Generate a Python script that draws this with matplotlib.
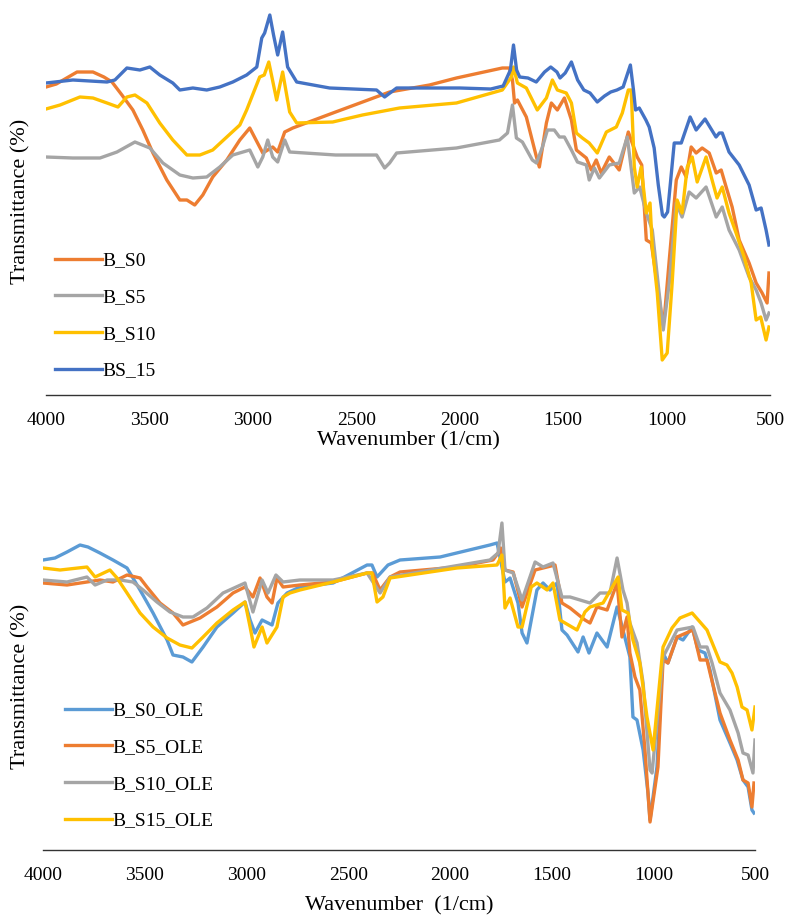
import matplotlib
matplotlib.use('Agg')
import matplotlib.pyplot as plt

plt.rcParams['font.family'] = ['Liberation Serif', 'DejaVu Serif']

# ---- top panel: B_S series (transmittance, arbitrary units) ----
top_labels = ['B_S0', 'B_S5', 'B_S10', 'BS_15']
top_colors = ['#ED7D31', '#A5A5A5', '#FFC000', '#4472C4']

b_s0_wn = [4000, 3950, 3900, 3850, 3773, 3720, 3681, 3633, 3580, 3532, 3483, 3416, 3353, 3319,
           3281, 3242, 3194, 3126, 3063, 3015, 2952, 2904, 2880, 2846, 2807, 2600, 2339, 2146,
           2016, 1794, 1760, 1745, 1735, 1721, 1678, 1629, 1615, 1581, 1557, 1528, 1494, 1460,
           1436, 1388, 1364, 1340, 1316, 1277, 1229, 1185, 1142, 1120, 1098, 1074, 1050, 1026,
           1011, 987, 953, 929, 905, 881, 857, 828, 794, 760, 736, 712, 683, 649, 601, 567, 538,
           514, 505]
b_s0_t = [313, 316, 322, 328, 328, 323, 318, 305, 290, 270, 247, 220, 200, 200,
          195, 205, 223, 240, 260, 272, 247, 253, 248, 268, 272, 288, 308, 315,
          322, 332, 332, 320, 297, 300, 283, 243, 233, 277, 297, 290, 302, 280,
          250, 242, 230, 240, 227, 243, 230, 268, 243, 235, 160, 157, 123, 87,
          82, 140, 220, 233, 223, 253, 247, 252, 247, 227, 230, 213, 193, 160, 137, 117, 107,
          97, 127]

b_s5_wn = [4000, 3870, 3739, 3657, 3570, 3498, 3435, 3353, 3290, 3223, 3160, 3097, 3015, 2976,
           2952, 2928, 2904, 2880, 2846, 2822, 2600, 2402, 2363, 2339, 2305, 2016, 1808, 1769,
           1745, 1726, 1697, 1649, 1629, 1600, 1576, 1543, 1518, 1494, 1460, 1431, 1388, 1374,
           1349, 1325, 1277, 1229, 1190, 1156, 1130, 1098, 1069, 1036, 1016, 987, 953, 925, 891,
           857, 809, 760, 731, 698, 649, 601, 567, 543, 519, 505]
b_s5_t = [243, 242, 242, 248, 258, 252, 237, 225, 222, 223, 233, 245, 250, 233,
          243, 260, 243, 238, 260, 248, 245, 245, 232, 237, 247, 252, 260, 267,
          295, 262, 258, 240, 237, 253, 270, 270, 263, 263, 250, 238, 235, 220,
          232, 222, 235, 237, 263, 207, 213, 187, 170, 107, 70, 117, 197, 183, 208,
          202, 213, 183, 193, 170, 150, 123, 110, 97, 80, 87]

b_s10_wn = [4000, 3932, 3836, 3773, 3705, 3652, 3609, 3570, 3512, 3450, 3387, 3319, 3256, 3194,
            3126, 3063, 3030, 2967, 2945, 2923, 2885, 2856, 2822, 2788, 2614, 2470, 2291, 2016,
            1794, 1750, 1740, 1721, 1678, 1625, 1581, 1552, 1528, 1485, 1460, 1436, 1407, 1374,
            1335, 1291, 1243, 1214, 1185, 1171, 1156, 1142, 1123, 1098, 1080, 1069, 1045, 1021,
            997, 973, 949, 925, 900, 876, 852, 809, 780, 756, 731, 698, 664, 625, 591, 567, 545,
            519, 505]
b_s10_t = [291, 295, 303, 302, 297, 293, 303, 305, 297, 277, 260, 245, 245, 250,
           263, 275, 290, 323, 325, 338, 300, 328, 288, 277, 278, 285, 292, 297,
           310, 323, 333, 317, 312, 290, 302, 320, 310, 307, 297, 267, 262, 257,
           247, 268, 273, 287, 310, 310, 233, 213, 233, 187, 197, 153, 107, 40,
           47, 117, 200, 187, 233, 243, 218, 243, 220, 202, 213, 187, 167, 143, 117, 80, 83,
           60, 73]

bs15_wn = [4000, 3870, 3705, 3667, 3609, 3546, 3498, 3450, 3387, 3353, 3290, 3223, 3160, 3097,
           3030, 2981, 2957, 2943, 2918, 2900, 2880, 2856, 2832, 2788, 2629, 2402, 2363, 2305,
           2200, 2000, 1850, 1790, 1755, 1740, 1725, 1710, 1670, 1630, 1590, 1560, 1530, 1515,
           1490, 1460, 1430, 1400, 1370, 1335, 1300, 1270, 1240, 1210, 1175, 1160, 1150, 1132,
           1100, 1084, 1060, 1040, 1020, 1011, 995, 980, 963, 929, 886, 857, 814, 761, 745, 731,
           698, 649, 601, 567, 543, 519, 505]
bs15_t = [317, 320, 318, 320, 332, 330, 333, 325, 317, 310, 312, 310, 313, 318,
          325, 333, 362, 367, 385, 365, 345, 368, 333, 318, 312, 310, 303, 312,
          312, 312, 311, 314, 330, 355, 330, 323, 322, 318, 328, 333, 328, 322,
          327, 338, 320, 310, 307, 298, 304, 308, 310, 313, 335, 310, 290, 292,
          280, 273, 252, 215, 185, 183, 188, 220, 257, 257, 283, 270, 281, 263, 267, 267,
          248, 235, 215, 190, 192, 170, 155]

# ---- bottom panel: OLE series ----
bot_labels = ['B_S0_OLE', 'B_S5_OLE', 'B_S10_OLE', 'B_S15_OLE']
bot_colors = ['#5B9BD5', '#ED7D31', '#A5A5A5', '#FFC000']

s0_ole_wn = [4000, 3941, 3882, 3818, 3779, 3720, 3656, 3587, 3523, 3459, 3390, 3361, 3312, 3268,
             3213, 3145, 3066, 3007, 2982, 2958, 2923, 2874, 2845, 2800, 2737, 2574, 2407, 2383,
             2358, 2304, 2245, 2048, 1803, 1768, 1729, 1704, 1665, 1645, 1621, 1572, 1542, 1508,
             1473, 1449, 1424, 1370, 1345, 1316, 1277, 1227, 1178, 1149, 1115, 1100, 1080, 1050,
             1026, 1016, 982, 952, 928, 883, 854, 809, 780, 746, 721, 672, 623, 588, 559, 534,
             515, 505]
s0_ole_t = [295, 297, 303, 310, 308, 302, 295, 287, 265, 242, 215, 200, 198, 193,
            208, 228, 242, 253, 235, 222, 235, 230, 252, 262, 268, 272, 290, 290,
            278, 290, 295, 298, 310, 312, 273, 277, 252, 222, 212, 265, 272, 265,
            272, 225, 220, 203, 218, 202, 222, 208, 248, 225, 198, 138, 135, 105,
            62, 35, 88, 202, 192, 218, 215, 228, 205, 202, 185, 135, 112, 95, 75, 68,
            45, 42]

s5_ole_wn = [4000, 3882, 3784, 3720, 3656, 3587, 3523, 3489, 3425, 3361, 3312, 3228, 3145, 3066,
             3007, 2968, 2933, 2899, 2874, 2850, 2820, 2737, 2574, 2407, 2380, 2343, 2294, 2245,
             1965, 1788, 1763, 1750, 1729, 1689, 1645, 1581, 1483, 1449, 1409, 1336, 1311, 1277,
             1227, 1178, 1154, 1129, 1115, 1090, 1066, 1041, 1016, 977, 952, 928, 883, 805, 770,
             736, 721, 672, 623, 583, 559, 534, 515, 505]
s5_ole_t = [272, 270, 273, 275, 273, 280, 277, 268, 252, 242, 230, 237, 248, 262,
            268, 258, 277, 258, 252, 277, 268, 270, 273, 282, 282, 265, 278, 283,
            288, 295, 302, 307, 285, 283, 248, 285, 290, 252, 247, 235, 232, 248,
            245, 272, 218, 238, 202, 178, 165, 105, 33, 88, 195, 192, 218, 225, 195,
            195, 182, 142, 115, 95, 75, 72, 48, 72]

s10_ole_wn = [4000, 3882, 3784, 3744, 3685, 3621, 3558, 3508, 3440, 3376, 3312, 3263, 3194, 3115,
              3007, 2968, 2923, 2894, 2855, 2820, 2737, 2574, 2407, 2343, 2294, 1803, 1763, 1744,
              1729, 1689, 1645, 1581, 1542, 1493, 1449, 1409, 1311, 1262, 1213, 1178, 1149, 1129,
              1115, 1080, 1050, 1016, 1006, 952, 883, 805, 770, 736, 711, 672, 623, 583, 559, 534,
              510, 500]
s10_ole_t = [275, 273, 278, 270, 275, 275, 273, 265, 253, 243, 238, 238, 247, 262,
             272, 243, 275, 262, 280, 273, 275, 275, 282, 262, 278, 295, 302, 332,
             285, 282, 255, 293, 288, 292, 258, 258, 252, 262, 262, 297, 265, 252,
             232, 212, 172, 85, 82, 198, 225, 228, 208, 208, 192, 162, 145, 122, 102, 100,
             82, 115]

s15_ole_wn = [4000, 3916, 3784, 3744, 3671, 3636, 3587, 3523, 3459, 3390, 3327, 3268, 3213, 3145,
              3066, 3007, 2982, 2963, 2923, 2899, 2850, 2820, 2786, 2737, 2574, 2407, 2383, 2358,
              2329, 2294, 1965, 1768, 1744, 1729, 1704, 1665, 1645, 1600, 1572, 1522, 1493, 1459,
              1375, 1336, 1311, 1247, 1173, 1154, 1124, 1100, 1066, 1031, 1001, 952, 908, 869, 809,
              736, 672, 638, 613, 588, 564, 539, 515, 500]
s15_ole_t = [287, 285, 288, 278, 285, 277, 262, 242, 228, 217, 210, 207, 218, 232,
             245, 253, 228, 208, 228, 212, 228, 258, 262, 265, 273, 282, 282, 253,
             258, 277, 287, 290, 300, 247, 257, 228, 228, 268, 272, 265, 272, 235,
             225, 243, 248, 252, 278, 245, 242, 215, 192, 138, 105, 208, 227, 237, 242,
             225, 193, 190, 182, 168, 148, 145, 125, 148]

top_series = [(b_s0_wn, b_s0_t), (b_s5_wn, b_s5_t), (b_s10_wn, b_s10_t), (bs15_wn, bs15_t)]
bot_series = [(s0_ole_wn, s0_ole_t), (s5_ole_wn, s5_ole_t),
              (s10_ole_wn, s10_ole_t), (s15_ole_wn, s15_ole_t)]

W, H = 789, 917
fig = plt.figure(figsize=(W / 100, H / 100), dpi=100)

# axes placed in pixel terms (left, right, top, bottom)
ax1 = fig.add_axes([46 / W, 1 - 395 / H, 724 / W, 387 / H])
ax2 = fig.add_axes([43 / W, 1 - 850 / H, 712 / W, 380 / H])


def style(ax, ylim, xlabel, labelpad):
    ax.set_xlim(4000, 500)
    ax.set_ylim(*ylim)
    ax.set_xticks([4000, 3500, 3000, 2500, 2000, 1500, 1000, 500])
    ax.set_yticks([])
    for side in ['top', 'right', 'left']:
        ax.spines[side].set_visible(False)
    ax.spines['bottom'].set_color('#333333')
    ax.spines['bottom'].set_linewidth(1.0)
    ax.tick_params(axis='x', length=0, pad=12, labelsize=14)
    ax.set_xlabel(xlabel, fontsize=16, labelpad=labelpad)
    ax.set_ylabel('Transmittance (%)', fontsize=16)


for (wn, t), c, lab in zip(top_series, top_colors, top_labels):
    ax1.plot(wn, t, color=c, lw=2.4, label=lab, solid_joinstyle='round')
for (wn, t), c, lab in zip(bot_series, bot_colors, bot_labels):
    ax2.plot(wn, t, color=c, lw=2.4, label=lab, solid_joinstyle='round')

style(ax1, (5, 392), 'Wavenumber (1/cm)', 2)
style(ax2, (5, 385), 'Wavenumber  (1/cm)', 9)
ax1.yaxis.set_label_coords(-0.021, 0.5)
ax2.yaxis.set_label_coords(-0.017, 0.43)

leg_kw = dict(frameon=False, fontsize=14, handlelength=2.4, handletextpad=0.05,
              labelspacing=0.98, borderpad=0, borderaxespad=0, loc='upper left',
              bbox_transform=fig.transFigure)
ax1.legend(bbox_to_anchor=(55 / W, 1 - 252 / H), **leg_kw)
ax2.legend(bbox_to_anchor=(65 / W, 1 - 702 / H), **leg_kw)

fig.savefig('out.png', dpi=100)
